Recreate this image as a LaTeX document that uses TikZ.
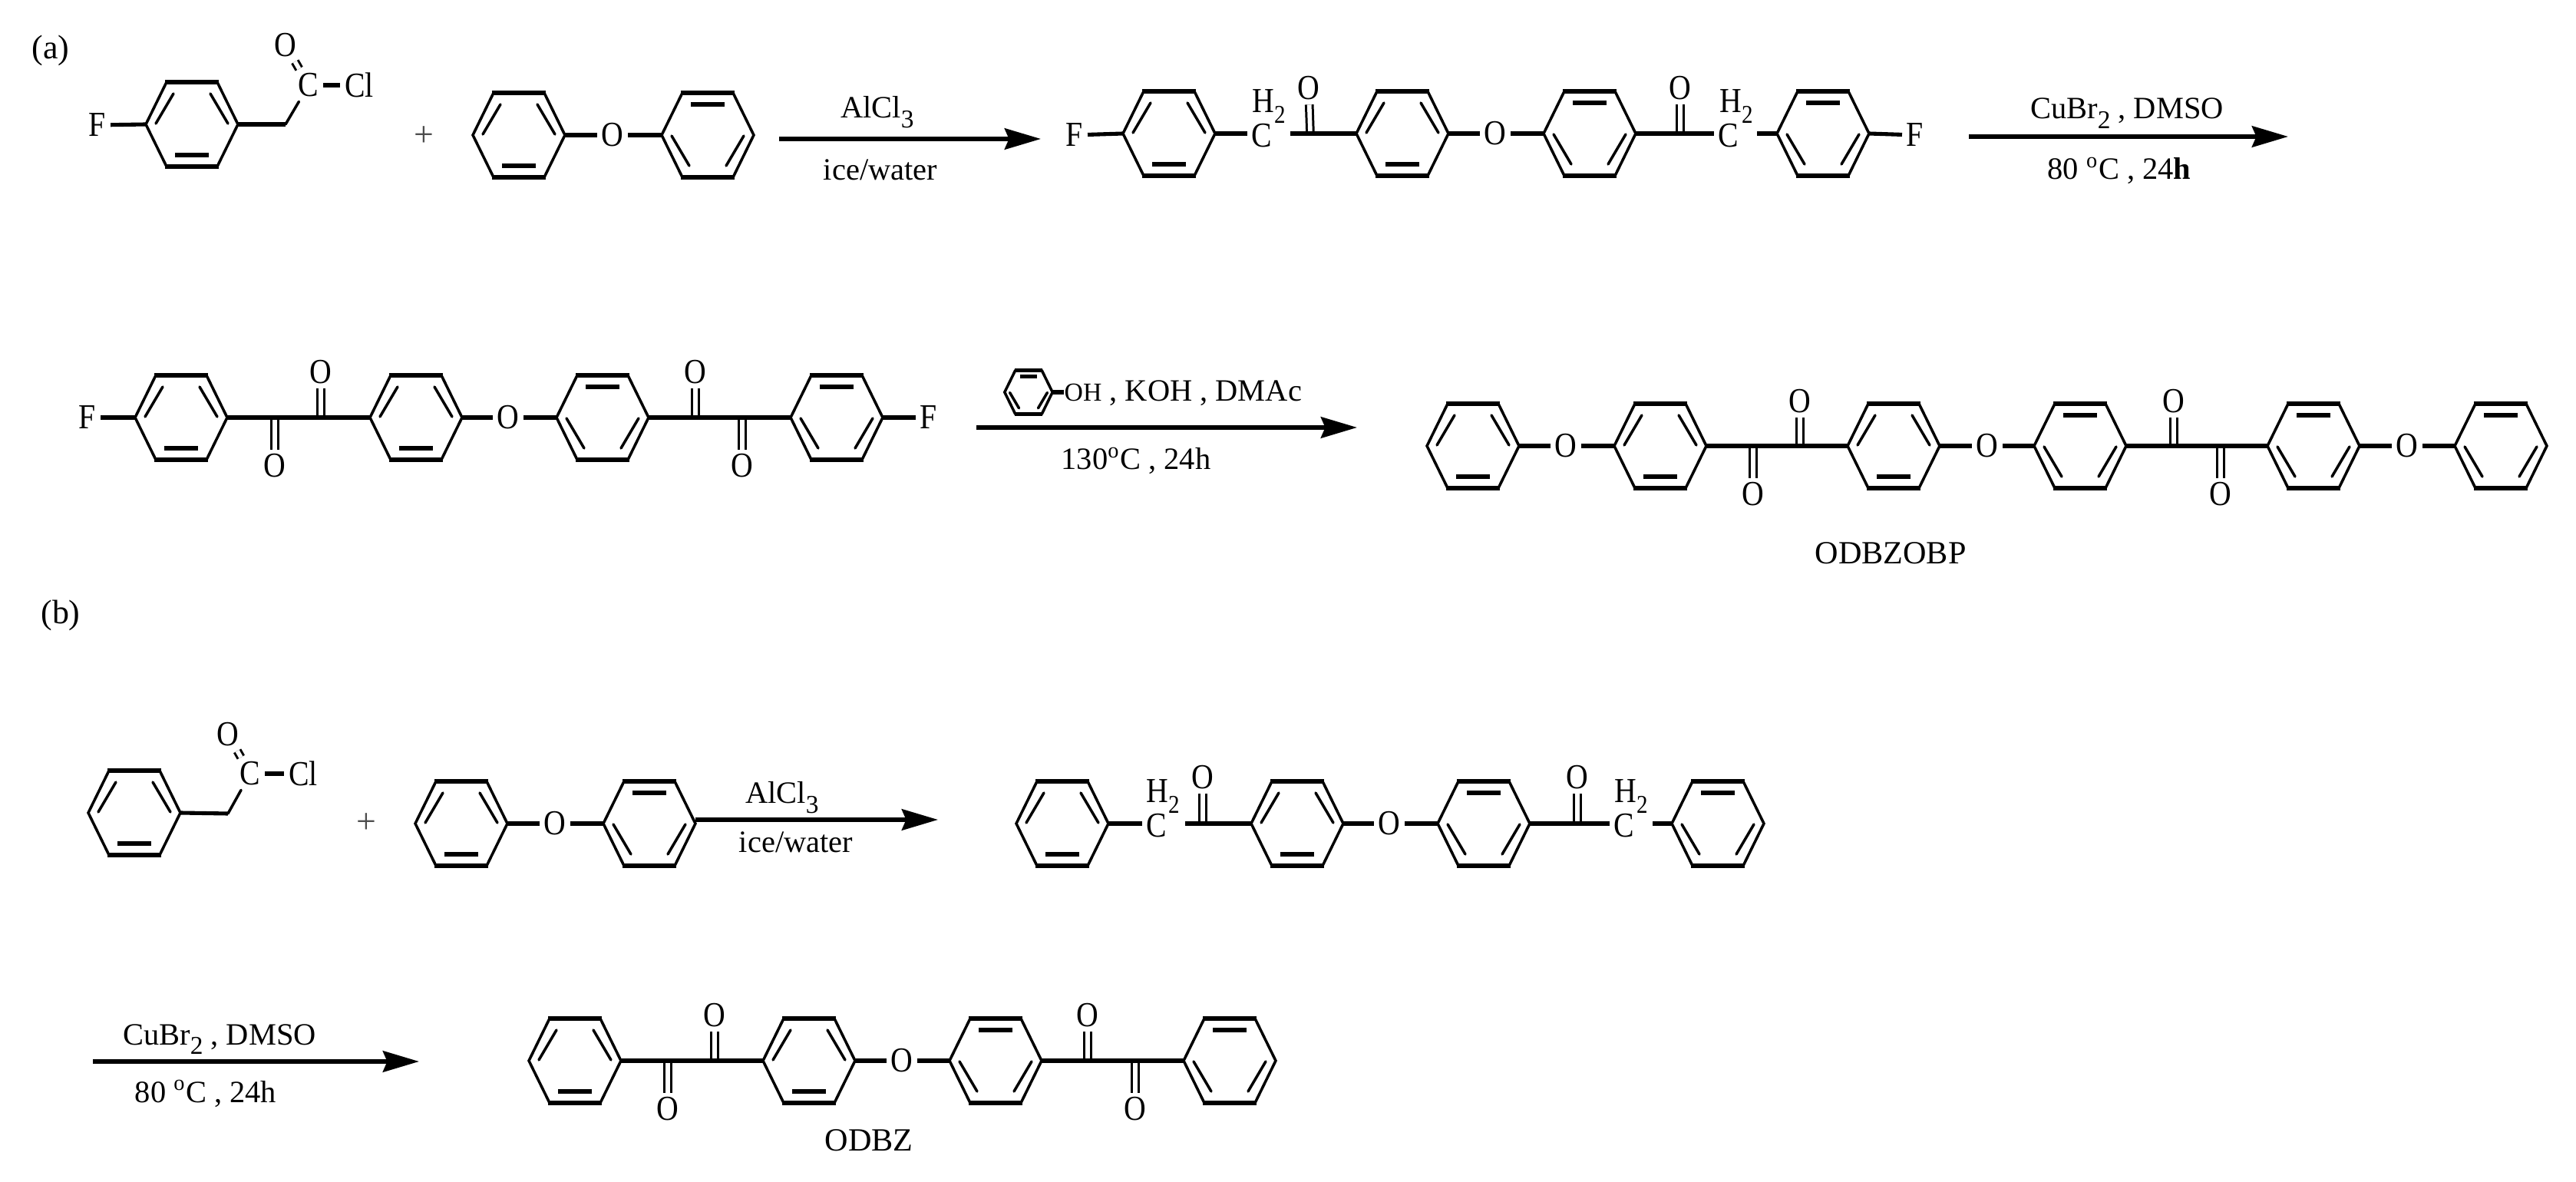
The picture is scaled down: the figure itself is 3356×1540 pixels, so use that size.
\documentclass[tikz,border=0pt]{standalone}
\usepackage{fontspec}
\usepackage{graphicx}
\setmainfont{Liberation Serif}
\usetikzlibrary{arrows.meta}
\newcommand\atomtxt[1]{\scalebox{.87}[1]{#1}}
\newcommand\subtwo[1]{\raisebox{-.3em}{\fontsize{9.5}{10}\selectfont #1}}
\newcommand\atm[4]{\node[atom] (#1) at (#2,#3) {\atomtxt{#4}};}
\newcommand\chtwo[3]{\node[atom,anchor=base] (#1) at (#2,#3) {\atomtxt{H\subtwo{2}}};}
\tikzset{
  bond/.style={line width=1pt,line join=miter,line cap=round},
  hb/.style={line width=1.45pt},
  dbl/.style={line width=.85pt,double,double distance=1.6pt},
  rxn/.style={line width=1.55pt,-{Stealth[length=13.4pt,width=7.8pt,inset=1.6pt]}},
  atom/.style={font=\fontsize{13}{15}\selectfont,inner sep=1.7pt,outer sep=0pt},
  reagent/.style={font=\fontsize{11.5}{14}\selectfont,inner sep=0pt,anchor=base},
  plus/.style={font=\fontsize{13}{15}\selectfont,text=black!70,inner sep=0pt},
  panel/.style={font=\fontsize{12.5}{15}\selectfont,inner sep=0pt},
  benzA/.pic={
    \coordinate (-w) at (-60,0); \coordinate (-e) at (60,0);
    \draw[bond] (-33,-55)--(-60,0)--(-33,55) (33,-55)--(60,0)--(33,55);
    \draw[hb] (-35,-55)--(35,-55) (-35,55)--(35,55);
    \draw[bond] (-24,-40)--(-47,-1) (24,-40)--(47,-1);
    \draw[hb] (-22,40)--(22,40);
  },
  benzB/.pic={
    \coordinate (-w) at (-60,0); \coordinate (-e) at (60,0);
    \draw[bond] (-33,-55)--(-60,0)--(-33,55) (33,-55)--(60,0)--(33,55);
    \draw[hb] (-35,-55)--(35,-55) (-35,55)--(35,55);
    \draw[bond] (-24,40)--(-47,1) (24,40)--(47,1);
    \draw[hb] (-22,-40)--(22,-40);
  }
}
\begin{document}
\begin{tikzpicture}[x=0.01cm,y=-0.01cm]
\fill[white,use as bounding box] (0,0) rectangle (3356,1540);

% ---------- panel (a), first row
\node[panel] (pa) at (66,66) {(a)};
\atm{fa}{127}{163}{F}
\pic (r1) at (250,162) {benzA};
\coordinate (v1) at (372,162);
\atm{c1}{402}{111}{C}
\atm{o1}{372}{59}{O}
\atm{cl1}{468}{111}{Cl}
\draw[hb] (fa) -- (r1-w);
\draw[hb] (r1-e) -- (v1);
\draw[bond] (v1) -- (c1);
\draw[dbl] (c1) -- (o1);
\draw[hb] (c1) -- (cl1);
\node[plus] (p1) at (552,178) {+};
\pic (r2) at (676,176) {benzA};
\atm{e1}{798}{176}{O}
\pic (r3) at (922,176) {benzB};
\draw[hb] (r2-e) -- (e1);
\draw[hb] (e1) -- (r3-w);
\coordinate (a1s) at (1015,181); \coordinate (a1e) at (1356,181);
\draw[rxn] (a1s) -- (a1e);
\node[reagent] (t1) at (1143,154) {AlCl\subtwo{3}};
\node[reagent] (t2) at (1147,235) {ice/water};

\atm{fb}{1400}{176}{F}
\pic (r4) at (1523,174) {benzA};
\atm{c2}{1644}{177}{C}
\chtwo{h1}{1653}{147}
\coordinate (k1) at (1707,174);
\atm{o2}{1705}{115}{O}
\pic (r5) at (1827,174) {benzA};
\atm{e2}{1948}{174}{O}
\pic (r6) at (2071,174) {benzB};
\coordinate (k2) at (2189,174);
\atm{o3}{2189}{115}{O}
\atm{c3}{2252}{177}{C}
\chtwo{h2}{2262}{147}
\pic (r7) at (2375,174) {benzB};
\atm{fc}{2495}{176}{F}
\draw[dbl] (k1) -- (o2);
\draw[dbl] (k2) -- (o3);
\draw[hb] (fb) -- (r4-w);
\draw[hb] (r4-e) -- (r4-e -| c2.west);
\draw[hb] ([xshift=0.18cm]c2.east |- r5-w) -- (r5-w);
\draw[hb] (r5-e) -- (e2);
\draw[hb] (e2) -- (r6-w);
\draw[hb] (r6-e) -- (r6-e -| c3.west);
\draw[hb] ([xshift=0.18cm]c3.east |- r7-w) -- (r7-w);
\draw[hb] (r7-e) -- (fc);
\coordinate (a2s) at (2565,178); \coordinate (a2e) at (2981,178);
\draw[rxn] (a2s) -- (a2e);
\node[reagent] (t3) at (2771,155) {CuBr\subtwo{2} , DMSO};
\node[reagent] (t4) at (2761,234) {80 \textsuperscript{o}C , 24\textbf{h}};

% ---------- panel (a), second row
\atm{fd}{114}{544}{F}
\pic (r8) at (236,544) {benzA};
\coordinate (k3) at (358,544);
\atm{o4}{358}{607}{O}
\coordinate (k4) at (418,544);
\atm{o5}{418}{485}{O}
\pic (r9) at (542,544) {benzA};
\atm{e3}{662}{544}{O}
\pic (r10) at (785,544) {benzB};
\coordinate (k5) at (906,544);
\atm{o6}{906}{485}{O}
\coordinate (k6) at (967,544);
\atm{o7}{967}{607}{O}
\pic (r11) at (1090,544) {benzB};
\atm{fe}{1210}{544}{F}
\draw[dbl] (k3) -- (o4);
\draw[dbl] (k4) -- (o5);
\draw[dbl] (k5) -- (o6);
\draw[dbl] (k6) -- (o7);
\draw[hb] (fd) -- (r8-w);
\draw[hb] (r8-e) -- (r9-w);
\draw[hb] (r9-e) -- (e3);
\draw[hb] (e3) -- (r10-w);
\draw[hb] (r10-e) -- (r11-w);
\draw[hb] (r11-e) -- (fe);

\pic[scale=.52] (ph) at (1340,511) {benzB};
\node[reagent,anchor=base west] (t5) at (1386,523) {{\fontsize{9.6}{11}\selectfont OH} , KOH , DMAc};
\draw[hb] (ph-e) -- (ph-e -| t5.west);
\coordinate (a3s) at (1272,557); \coordinate (a3e) at (1768,557);
\draw[rxn] (a3s) -- (a3e);
\node[reagent] (t6) at (1480,612) {130\textsuperscript{o}C , 24h};

\pic (r12) at (1919,581) {benzA};
\atm{e4}{2040}{581}{O}
\pic (r13) at (2163,581) {benzA};
\coordinate (k7) at (2284,581);
\atm{o8}{2284}{644}{O}
\coordinate (k8) at (2345,581);
\atm{o9}{2345}{523}{O}
\pic (r14) at (2467,581) {benzA};
\atm{e5}{2589}{581}{O}
\pic (r15) at (2710,581) {benzB};
\coordinate (k9) at (2832,581);
\atm{o10}{2832}{523}{O}
\coordinate (k10) at (2893,581);
\atm{o11}{2893}{644}{O}
\pic (r16) at (3014,581) {benzB};
\atm{e6}{3136}{581}{O}
\pic (r17) at (3258,581) {benzB};
\draw[dbl] (k7) -- (o8);
\draw[dbl] (k8) -- (o9);
\draw[dbl] (k9) -- (o10);
\draw[dbl] (k10) -- (o11);
\draw[hb] (r12-e) -- (e4);
\draw[hb] (e4) -- (r13-w);
\draw[hb] (r13-e) -- (r14-w);
\draw[hb] (r14-e) -- (e5);
\draw[hb] (e5) -- (r15-w);
\draw[hb] (r15-e) -- (r16-w);
\draw[hb] (r16-e) -- (e6);
\draw[hb] (e6) -- (r17-w);
\node[reagent,font=\fontsize{12}{14}\selectfont] (t7) at (2463,735) {ODBZOBP};

% ---------- panel (b), first row
\node[panel] (pb) at (79,802) {(b)};
\pic (b1) at (175,1059) {benzA};
\coordinate (v2) at (297,1060);
\atm{c4}{326}{1008}{C}
\atm{o12}{297}{957}{O}
\atm{cl2}{395}{1008}{Cl}
\draw[hb] (b1-e) -- (v2);
\draw[bond] (v2) -- (c4);
\draw[dbl] (c4) -- (o12);
\draw[hb] (c4) -- (cl2);
\node[plus] (p2) at (477,1073) {+};
\pic (b2) at (601,1073) {benzA};
\atm{e7}{723}{1073}{O}
\pic (b3) at (846,1073) {benzB};
\draw[hb] (b2-e) -- (e7);
\draw[hb] (e7) -- (b3-w);
\coordinate (a4s) at (906,1068); \coordinate (a4e) at (1222,1068);
\draw[rxn] (a4s) -- (a4e);
\node[reagent] (t8) at (1019,1047) {AlCl\subtwo{3}};
\node[reagent] (t9) at (1037,1110) {ice/water};

\pic (b4) at (1384,1073) {benzA};
\atm{c5}{1507}{1076}{C}
\chtwo{h3}{1515}{1046}
\coordinate (k11) at (1567,1073);
\atm{o13}{1567}{1013}{O}
\pic (b5) at (1690,1073) {benzA};
\atm{e8}{1810}{1073}{O}
\pic (b6) at (1933,1073) {benzB};
\coordinate (k12) at (2055,1073);
\atm{o14}{2055}{1013}{O}
\atm{c6}{2116}{1076}{C}
\chtwo{h4}{2125}{1046}
\pic (b7) at (2238,1073) {benzB};
\draw[dbl] (k11) -- (o13);
\draw[dbl] (k12) -- (o14);
\draw[hb] (b4-e) -- (b4-e -| c5.west);
\draw[hb] ([xshift=0.18cm]c5.east |- b5-w) -- (b5-w);
\draw[hb] (b5-e) -- (e8);
\draw[hb] (e8) -- (b6-w);
\draw[hb] (b6-e) -- (b6-e -| c6.west);
\draw[hb] ([xshift=0.18cm]c6.east |- b7-w) -- (b7-w);

% ---------- panel (b), second row
\coordinate (a5s) at (121,1383); \coordinate (a5e) at (546,1383);
\draw[rxn] (a5s) -- (a5e);
\node[reagent] (t10) at (286,1361) {CuBr\subtwo{2} , DMSO};
\node[reagent] (t11) at (268,1436) {80 \textsuperscript{o}C , 24h};

\pic (b8) at (749,1382) {benzA};
\coordinate (k13) at (870,1382);
\atm{o15}{870}{1445}{O}
\coordinate (k14) at (931,1382);
\atm{o16}{931}{1323}{O}
\pic (b9) at (1054,1382) {benzA};
\atm{e9}{1175}{1382}{O}
\pic (b10) at (1297,1382) {benzB};
\coordinate (k15) at (1417,1382);
\atm{o17}{1417}{1323}{O}
\coordinate (k16) at (1479,1382);
\atm{o18}{1479}{1445}{O}
\pic (b11) at (1602,1382) {benzB};
\draw[dbl] (k13) -- (o15);
\draw[dbl] (k14) -- (o16);
\draw[dbl] (k15) -- (o17);
\draw[dbl] (k16) -- (o18);
\draw[hb] (b8-e) -- (b9-w);
\draw[hb] (b9-e) -- (e9);
\draw[hb] (e9) -- (b10-w);
\draw[hb] (b10-e) -- (b11-w);
\node[reagent,font=\fontsize{12}{14}\selectfont] (t12) at (1132,1499) {ODBZ};
\end{tikzpicture}
\end{document}
